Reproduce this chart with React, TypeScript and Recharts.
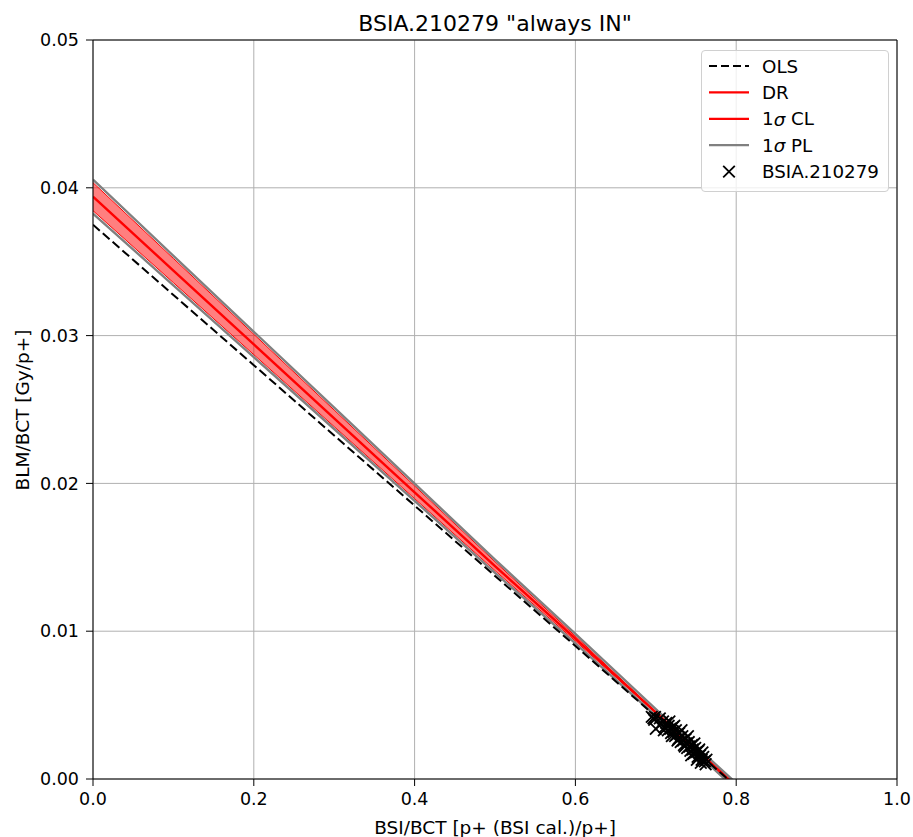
import React from 'react';
import {
  ComposedChart, Line, Area, Scatter, XAxis, YAxis, CartesianGrid, ReferenceLine,
} from 'recharts';

// x grid for the fit lines, with values
const xGrid = [0, 0.1, 0.2, 0.3, 0.4, 0.5, 0.6, 0.7, 0.73, 0.8];
const drFit = [0.0394, 0.0344, 0.0294, 0.0244, 0.0194, 0.0144, 0.0095, 0.0045, 0.003, -0.0005];
const olsFit = [0.0375, 0.03275, 0.028, 0.02324, 0.0185, 0.01374, 0.009, 0.00423, 0.0028, -0.0005];
const clUpper = [0.04035, 0.03522, 0.03009, 0.02496, 0.01983, 0.0147, 0.00967, 0.00455, 0.00303, -0.0004];
const clLower = [0.03845, 0.03358, 0.02871, 0.02384, 0.01897, 0.0141, 0.00933, 0.00445, 0.00297, -0.0006];
const plUpper = [0.04055, 0.0354, 0.03026, 0.02512, 0.01998, 0.01485, 0.00982, 0.00472, 0.0032, -0.00028];
const plLower = [0.03825, 0.0334, 0.02854, 0.02368, 0.01882, 0.01395, 0.00918, 0.00428, 0.0028, -0.00072];

// measured points
const pointX = [
  0.695, 0.697, 0.699, 0.698, 0.700, 0.706, 0.709, 0.711, 0.713, 0.715, 0.716, 0.718, 0.719, 0.721,
  0.722, 0.724, 0.725, 0.726, 0.728, 0.729, 0.730, 0.731, 0.733, 0.734, 0.735, 0.737, 0.738, 0.739,
  0.741, 0.742, 0.743, 0.745, 0.746, 0.747, 0.749, 0.750, 0.752, 0.753, 0.755, 0.757, 0.759, 0.761, 0.763,
  0.717, 0.720, 0.723, 0.727, 0.732, 0.736, 0.740, 0.744, 0.748, 0.751, 0.754, 0.756, 0.758, 0.762, 0.705, 0.710,
];
const pointY = [
  0.0042, 0.0041, 0.0042, 0.0040, 0.0034, 0.0037, 0.0039, 0.0035, 0.0038, 0.0033, 0.0036, 0.0034, 0.0031, 0.0035,
  0.0032, 0.0029, 0.0033, 0.0030, 0.0027, 0.0031, 0.0028, 0.0025, 0.0029, 0.0026, 0.0023, 0.0027, 0.0024, 0.0021,
  0.0025, 0.0022, 0.0019, 0.0023, 0.0020, 0.0017, 0.0021, 0.0018, 0.0015, 0.0019, 0.0016, 0.0013, 0.0015, 0.0012, 0.0013,
  0.0039, 0.0029, 0.0036, 0.0026, 0.0033, 0.0022, 0.0029, 0.0016, 0.0024, 0.0013, 0.0020, 0.0011, 0.0018, 0.0010, 0.0041, 0.0033,
];

const xTicks = [0, 0.2, 0.4, 0.6, 0.8, 1.0];
const yTicks = [0, 0.01, 0.02, 0.03, 0.04, 0.05];

const FONT = '"DejaVu Sans", sans-serif';

const lineData = xGrid.map((x, i) => ({
  x,
  dr: drFit[i],
  ols: olsFit[i],
  clHi: clUpper[i],
  clLo: clLower[i],
  plHi: plUpper[i],
  plLo: plLower[i],
  band: [clLower[i], clUpper[i]],
}));

const scatterData = pointX.map((x, i) => ({ x, y: pointY[i] }));

const Cross = (props: any) => {
  const { cx, cy } = props;
  const r = 5.8;
  return (
    <g stroke="#000" strokeWidth={1.8}>
      <line x1={cx - r} y1={cy - r} x2={cx + r} y2={cy + r} />
      <line x1={cx - r} y1={cy + r} x2={cx + r} y2={cy - r} />
    </g>
  );
};

const legendRows = [
  { pre: 'OLS', sigma: false, post: '', kind: 'dash' },
  { pre: 'DR', sigma: false, post: '', kind: 'red' },
  { pre: '1', sigma: true, post: ' CL', kind: 'red' },
  { pre: '1', sigma: true, post: ' PL', kind: 'gray' },
  { pre: 'BSIA.210279', sigma: false, post: '', kind: 'x' },
];

const ChartLegend = () => (
  <div
    style={{
      position: 'absolute', left: 701, top: 50, width: 188, height: 142, boxSizing: 'border-box',
      border: '1px solid #d0d0d0', borderRadius: 4, background: 'rgba(255,255,255,0.8)',
    }}
  >
    <svg width={186} height={140} style={{ display: 'block' }}>
      {legendRows.map((r, i) => {
        const y = 15 + i * 26.4;
        return (
          <g key={i}>
            {r.kind === 'dash' && <line x1={7} x2={47} y1={y} y2={y} stroke="#000" strokeWidth={2} strokeDasharray="8 4" />}
            {r.kind === 'red' && <line x1={7} x2={47} y1={y} y2={y} stroke="#ff0000" strokeWidth={2.2} />}
            {r.kind === 'gray' && <line x1={7} x2={47} y1={y} y2={y} stroke="#808080" strokeWidth={2.2} />}
            {r.kind === 'x' && <Cross cx={27} cy={y} />}
            <text x={60} y={y} dominantBaseline="central" fontFamily={FONT} fontSize={18.3}>
              {r.pre}
              {r.sigma && <tspan fontStyle="italic">σ</tspan>}
              {r.post}
            </text>
          </g>
        );
      })}
    </svg>
  </div>
);

const App: React.FC = () => {
  return (
    <div style={{ position: 'absolute', left: 0, top: 0, width: 913, height: 837, background: '#fff' }}>
      <ComposedChart
        width={913}
        height={837}
        data={lineData}
        margin={{ top: 40, right: 16, bottom: 0, left: 0 }}
        style={{ fontFamily: FONT }}
      >
        <CartesianGrid stroke="#b0b0b0" strokeWidth={1} />
        <XAxis
          type="number"
          dataKey="x"
          domain={[0, 1]}
          ticks={xTicks}
          tickFormatter={(v: number) => v.toFixed(1)}
          height={58}
          stroke="#000"
          tickSize={7}
          tickMargin={7}
          tick={{ fill: '#000', fontSize: 17.5, fontFamily: FONT }}
          allowDataOverflow
          label={{
            content: () => (
              <text x={495} y={827} textAnchor="middle" dominantBaseline="central" fontFamily={FONT} fontSize={18.5}>
                BSI/BCT [p+ (BSI cal.)/p+]
              </text>
            ),
          }}
        />
        <YAxis
          type="number"
          domain={[0, 0.05]}
          ticks={yTicks}
          tickFormatter={(v: number) => v.toFixed(2)}
          width={93}
          stroke="#000"
          tickSize={7}
          tickMargin={7}
          tick={{ fill: '#000', fontSize: 17.5, fontFamily: FONT }}
          allowDataOverflow
          label={{
            content: () => (
              <text x={22} y={410} transform="rotate(-90 22 410)" textAnchor="middle" dominantBaseline="central" fontFamily={FONT} fontSize={18.5}>
                BLM/BCT [Gy/p+]
              </text>
            ),
          }}
        />
        <Area dataKey="band" type="linear" fill="#ff0000" fillOpacity={0.5} stroke="none" isAnimationActive={false} />
        <Line dataKey="clHi" type="linear" stroke="#ff0000" strokeWidth={1} dot={false} isAnimationActive={false} />
        <Line dataKey="clLo" type="linear" stroke="#ff0000" strokeWidth={1} dot={false} isAnimationActive={false} />
        <Line dataKey="plHi" type="linear" stroke="#808080" strokeWidth={2.4} dot={false} isAnimationActive={false} />
        <Line dataKey="plLo" type="linear" stroke="#808080" strokeWidth={2.4} dot={false} isAnimationActive={false} />
        <Line dataKey="dr" type="linear" stroke="#ff0000" strokeWidth={2.4} dot={false} isAnimationActive={false} />
        <Line dataKey="ols" type="linear" stroke="#000" strokeWidth={2} strokeDasharray="9 4" dot={false} isAnimationActive={false} />
        <Scatter data={scatterData} dataKey="y" shape={<Cross />} isAnimationActive={false} />
        <ReferenceLine
          y={0.05}
          stroke="#000"
          strokeWidth={1}
          label={{
            content: () => (
              <text x={495} y={23} textAnchor="middle" dominantBaseline="central" fontFamily={FONT} fontSize={22}>
                BSIA.210279 "always IN"
              </text>
            ),
          }}
        />
        <ReferenceLine x={1} stroke="#000" strokeWidth={1} />
      </ComposedChart>
      <ChartLegend />
    </div>
  );
};

export default App;
